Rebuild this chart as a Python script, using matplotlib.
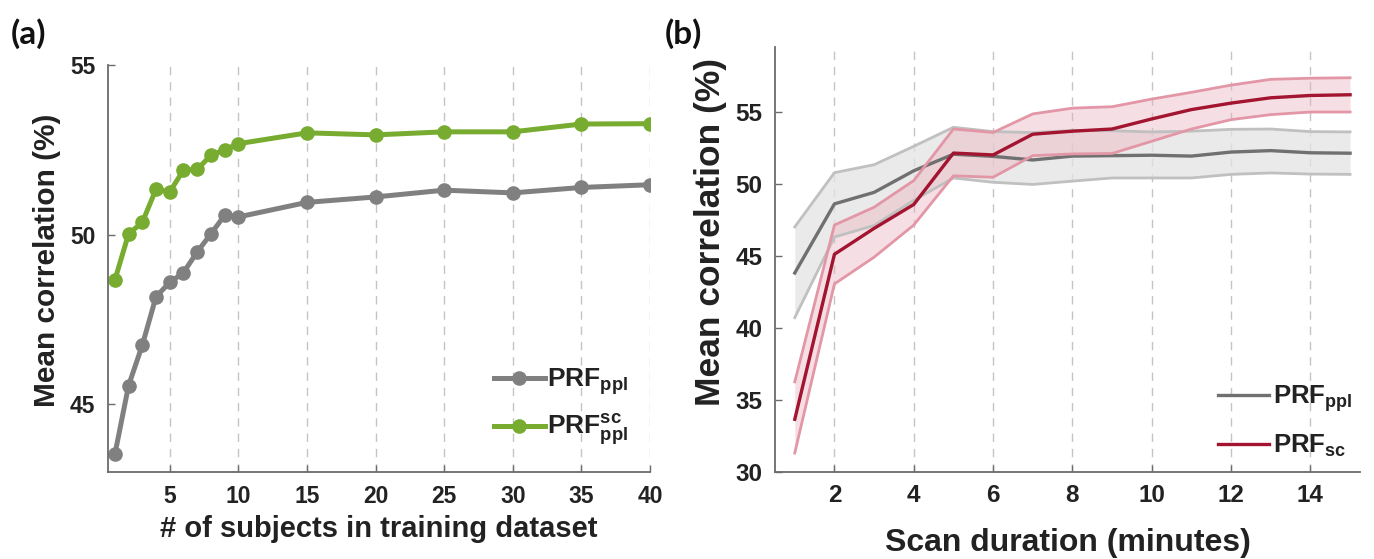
import matplotlib
matplotlib.use("Agg")
import matplotlib.pyplot as plt

plt.rcParams["font.family"] = ["Liberation Sans", "DejaVu Sans"]
plt.rcParams["font.weight"] = "bold"
plt.rcParams["mathtext.fontset"] = "custom"
plt.rcParams["mathtext.rm"] = "Liberation Sans:bold"
plt.rcParams["mathtext.it"] = "Liberation Sans:bold"
plt.rcParams["mathtext.bf"] = "Liberation Sans:bold"

# (a) mean correlation vs number of training subjects
n_subjects = [1, 2, 3, 4, 5, 6, 7, 8, 9, 10, 15, 20, 25, 30, 35, 40]
prf_ppl = [43.52, 45.55, 46.74, 48.17, 48.59, 48.88, 49.49, 50.02, 50.57, 50.52,
           50.95, 51.11, 51.31, 51.23, 51.39, 51.47]
prf_ppl_sc = [48.66, 50.02, 50.36, 51.34, 51.26, 51.90, 51.92, 52.34, 52.50, 52.68,
              53.00, 52.94, 53.03, 53.03, 53.26, 53.27]

# (b) mean correlation vs scan duration, with lower/upper band
minutes = list(range(1, 16))
ppl_mean = [43.8, 48.6, 49.4, 50.9, 52.05, 51.9, 51.65, 51.92, 51.95, 51.98,
            51.92, 52.2, 52.3, 52.15, 52.12]
ppl_low = [40.7, 46.3, 47.1, 48.85, 50.4, 50.1, 49.95, 50.18, 50.4, 50.4,
           50.4, 50.65, 50.75, 50.67, 50.65]
ppl_high = [47.0, 50.77, 51.32, 52.6, 53.92, 53.62, 53.55, 53.7, 53.68, 53.6,
            53.65, 53.78, 53.8, 53.62, 53.6]
sc_mean = [33.64, 45.1, 46.9, 48.56, 52.13, 52.0, 53.44, 53.65, 53.8, 54.5,
           55.15, 55.6, 55.97, 56.13, 56.18]
sc_low = [31.3, 43.04, 44.9, 47.13, 50.55, 50.45, 51.95, 52.07, 52.1, 52.95,
          53.8, 54.45, 54.8, 54.98, 54.98]
sc_high = [36.24, 47.13, 48.37, 50.22, 53.8, 53.56, 54.85, 55.25, 55.35, 55.88,
           56.35, 56.85, 57.25, 57.33, 57.36]

TEXT = "#222222"
SPINE = "#6b6b6b"
GRID = "#c4c4c4"

fig = plt.figure(figsize=(13.74, 5.59), dpi=100)
ax_a = fig.add_axes([0.0786, 0.1556, 0.3945, 0.7281])
ax_b = fig.add_axes([0.5640, 0.1562, 0.4258, 0.7598])


def style_axes(ax, tick_size):
    for side in ("top", "right"):
        ax.spines[side].set_visible(False)
    for side in ("left", "bottom"):
        ax.spines[side].set_color(SPINE)
        ax.spines[side].set_linewidth(1.3)
    ax.tick_params(direction="in", length=5, width=1.0, color=SPINE,
                   labelsize=tick_size, labelcolor=TEXT, pad=9)
    ax.xaxis.grid(True, linestyle=(0, (6, 5)), color=GRID, linewidth=1.0)
    ax.set_axisbelow(True)
    for lbl in ax.get_xticklabels() + ax.get_yticklabels():
        lbl.set_fontweight("bold")


# panel (a)
ax_a.plot(n_subjects, prf_ppl, color="#808080", lw=3.6, marker="o", ms=9.5,
          label=r"PRF$_{ppl}$")
ax_a.plot(n_subjects, prf_ppl_sc, color="#77ac30", lw=3.6, marker="o", ms=9.5,
          label=r"PRF$_{ppl}^{sc}$")
ax_a.set_xlim(0.5, 40)
ax_a.set_ylim(43, 55)
ax_a.set_xticks([5, 10, 15, 20, 25, 30, 35, 40])
ax_a.set_yticks([45, 50, 55])
style_axes(ax_a, 16.5)
ax_a.set_xlabel("# of subjects in training dataset", fontsize=21,
                fontweight="bold", color=TEXT)
ax_a.set_ylabel("Mean correlation (%)", fontsize=21.5, fontweight="bold",
                color=TEXT)
ax_a.xaxis.set_label_coords(0.5, -0.105)
ax_a.yaxis.set_label_coords(-0.086, 0.52)
ax_a.legend(loc="lower right", bbox_to_anchor=(1.004, 0.0), frameon=False,
            fontsize=19, handlelength=1.9, handletextpad=0.1,
            labelspacing=0.6, labelcolor=TEXT)

# panel (b)
ax_b.fill_between(minutes, ppl_low, ppl_high, color="#e3e3e3", alpha=0.75, lw=0)
ax_b.plot(minutes, ppl_low, color="#c0c0c0", lw=2.0)
ax_b.plot(minutes, ppl_high, color="#c0c0c0", lw=2.0)
ax_b.plot(minutes, ppl_mean, color="#707070", lw=2.4, label=r"PRF$_{ppl}$")
ax_b.fill_between(minutes, sc_low, sc_high, color="#eab0bc", alpha=0.4, lw=0)
ax_b.plot(minutes, sc_low, color="#e296a6", lw=2.0)
ax_b.plot(minutes, sc_high, color="#e296a6", lw=2.0)
ax_b.plot(minutes, sc_mean, color="#a2142f", lw=2.4, label=r"PRF$_{sc}$")
ax_b.set_xlim(0.5, 15.25)
ax_b.set_ylim(30, 59.5)
ax_b.set_xticks([2, 4, 6, 8, 10, 12, 14])
ax_b.set_yticks([30, 35, 40, 45, 50, 55])
style_axes(ax_b, 17.5)
ax_b.set_xlabel("Scan duration (minutes)", fontsize=23, fontweight="bold",
                color=TEXT)
ax_b.set_ylabel("Mean correlation (%)", fontsize=25.5, fontweight="bold",
                color=TEXT)
ax_b.xaxis.set_label_coords(0.5, -0.132)
ax_b.yaxis.set_label_coords(-0.082, 0.564)
ax_b.legend(loc="lower right", bbox_to_anchor=(1.026, -0.025), frameon=False,
            fontsize=18.5, handlelength=2.0, handletextpad=0.12,
            labelspacing=0.75, labelcolor=TEXT)

fig.text(0.008, 0.922, "(a)", fontsize=24, fontweight="bold", family="Lato",
         color="#111111")
fig.text(0.484, 0.922, "(b)", fontsize=24, fontweight="bold", family="Lato",
         color="#111111")

fig.savefig("out.png", dpi=100, facecolor="white")
